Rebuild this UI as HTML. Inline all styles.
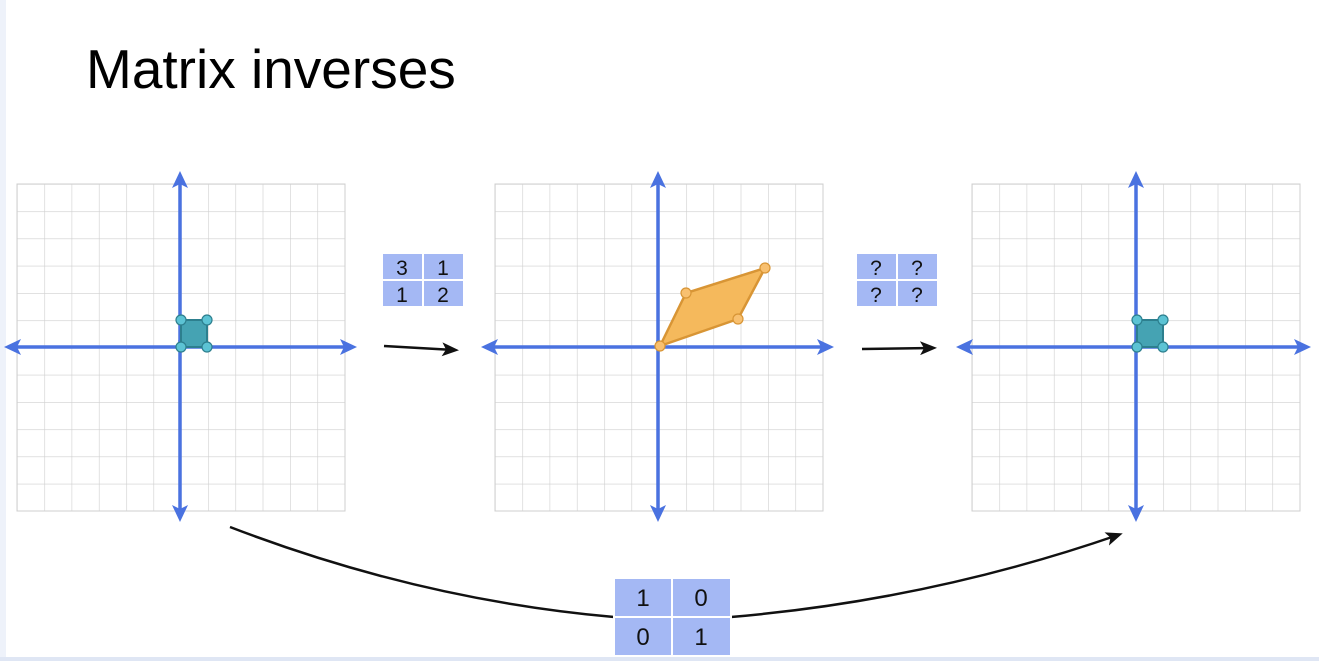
<!DOCTYPE html>
<html><head><style>
body{margin:0;width:1319px;height:661px;background:#fff;overflow:hidden;font-family:"Liberation Sans",sans-serif}
.t{position:absolute;left:86px;top:37px;font-size:55px;color:#000}
</style></head><body>
<div style="position:absolute;left:0;top:0;width:6px;height:661px;background:#eef2fa"></div>
<div class="t">Matrix inverses</div>
<svg width="1319" height="661" style="position:absolute;left:0;top:0">
<defs>
<pattern id="g" x="17" y="184" width="27.3" height="27.25" patternUnits="userSpaceOnUse"><path d="M0 0H27.3M0 0V27.25" stroke="#cfcfcf" stroke-width="1.2" fill="none"/></pattern>
<marker id="ab" markerWidth="18" markerHeight="18" refX="12" refY="8" orient="auto" markerUnits="userSpaceOnUse"><path d="M0,0 L17,8 L0,16 L4,8z" fill="#4a72e0"/></marker>
<marker id="ak" markerWidth="18" markerHeight="14" refX="12" refY="7" orient="auto" markerUnits="userSpaceOnUse"><path d="M0,0 L17,7 L0,14 L4,7z" fill="#111"/></marker>
</defs>
<rect x="17" y="184" width="328" height="327" fill="url(#g)" stroke="#cfcfcf"/>
<g transform="translate(478,0)"><rect x="17" y="184" width="328" height="327" fill="url(#g)" stroke="#cfcfcf"/></g>
<g transform="translate(955,0)"><rect x="17" y="184" width="328" height="327" fill="url(#g)" stroke="#cfcfcf"/></g>
<g stroke="#4a72e0" stroke-width="3.5" fill="none">
<line x1="180" y1="340" x2="180" y2="517" marker-end="url(#ab)"/><line x1="180" y1="350" x2="180" y2="176" marker-end="url(#ab)"/>
<line x1="180" y1="347" x2="352" y2="347" marker-end="url(#ab)"/><line x1="180" y1="347" x2="9" y2="347" marker-end="url(#ab)"/>
<line x1="658" y1="340" x2="658" y2="517" marker-end="url(#ab)"/><line x1="658" y1="350" x2="658" y2="176" marker-end="url(#ab)"/>
<line x1="658" y1="347" x2="829" y2="347" marker-end="url(#ab)"/><line x1="658" y1="347" x2="486" y2="347" marker-end="url(#ab)"/>
<line x1="1136" y1="340" x2="1136" y2="517" marker-end="url(#ab)"/><line x1="1136" y1="350" x2="1136" y2="176" marker-end="url(#ab)"/>
<line x1="1136" y1="347" x2="1306" y2="347" marker-end="url(#ab)"/><line x1="1136" y1="347" x2="961" y2="347" marker-end="url(#ab)"/>
</g>
<g fill="#45a3b3" stroke="#2d7f8e" stroke-width="2">
<rect x="181" y="320" width="26" height="27"/><rect x="1137" y="320" width="26" height="27"/>
</g>
<g fill="#5cc3d4" stroke="#2d7f8e" stroke-width="1.2">
<circle cx="181" cy="320" r="5"/><circle cx="207" cy="320" r="5"/><circle cx="181" cy="347" r="5"/><circle cx="207" cy="347" r="5"/>
<circle cx="1137" cy="320" r="5"/><circle cx="1163" cy="320" r="5"/><circle cx="1137" cy="347" r="5"/><circle cx="1163" cy="347" r="5"/>
</g>
<polygon points="660,346 686,293 765,268 738,319" fill="#f5b95c" stroke="#d89535" stroke-width="2.5"/>
<g fill="#f8c070" stroke="#d89535" stroke-width="1.2">
<circle cx="660" cy="346" r="5"/><circle cx="686" cy="293" r="5"/><circle cx="765" cy="268" r="5"/><circle cx="738" cy="319" r="5"/>
</g>
<line x1="384" y1="346" x2="454" y2="350" stroke="#111" stroke-width="2.5" marker-end="url(#ak)"/>
<line x1="862" y1="349" x2="932" y2="348" stroke="#111" stroke-width="2.5" marker-end="url(#ak)"/>
<path d="M230 527 Q420 600 614 617" stroke="#111" stroke-width="2.5" fill="none"/>
<path d="M731 617 Q930 600 1118 535" stroke="#111" stroke-width="2.5" fill="none" marker-end="url(#ak)"/>
<g fill="#a4b8f4" stroke="#fff" stroke-width="2">
<rect x="382" y="253" width="41" height="27"/><rect x="423" y="253" width="41" height="27"/><rect x="382" y="280" width="41" height="27"/><rect x="423" y="280" width="41" height="27"/>
<rect x="856" y="253" width="41" height="27"/><rect x="897" y="253" width="41" height="27"/><rect x="856" y="280" width="41" height="27"/><rect x="897" y="280" width="41" height="27"/>
<rect x="614" y="578" width="58" height="39"/><rect x="672" y="578" width="59" height="39"/><rect x="614" y="617" width="58" height="39"/><rect x="672" y="617" width="59" height="39"/>
</g>
<g font-family="Liberation Sans" font-size="21" text-anchor="middle" fill="#111">
<text x="402" y="275">3</text><text x="443" y="275">1</text><text x="402" y="302">1</text><text x="443" y="302">2</text>
<text x="876" y="275">?</text><text x="917" y="275">?</text><text x="876" y="302">?</text><text x="917" y="302">?</text>
<text x="643" y="606" font-size="24">1</text><text x="701" y="606" font-size="24">0</text><text x="643" y="645" font-size="24">0</text><text x="701" y="645" font-size="24">1</text>
</g>
<rect x="0" y="657" width="1319" height="4" fill="#dfe6f4"/>
</svg>
</body></html>
